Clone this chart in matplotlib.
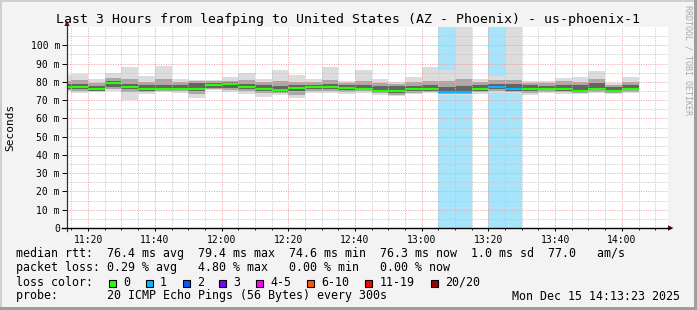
import matplotlib
matplotlib.use("Agg")
import matplotlib.pyplot as plt
import numpy as np
from matplotlib.patches import Rectangle, Polygon
from matplotlib.lines import Line2D

# ---------------- data ----------------
bin_starts = ["11:10", "11:15", "11:20", "11:25", "11:30", "11:35", "11:40", "11:45",
              "11:50", "11:55", "12:00", "12:05", "12:10", "12:15", "12:20", "12:25",
              "12:30", "12:35", "12:40", "12:45", "12:50", "12:55", "13:00", "13:05",
              "13:10", "13:15", "13:20", "13:25", "13:30", "13:35", "13:40", "13:45",
              "13:50", "13:55", "14:00"]
smoke_top = [83.5, 84.4, 81.8, 85.0, 88.1, 83.1, 88.6, 81.3, 80.9, 80.9, 82.4, 85.0,
             81.3, 86.2, 84.0, 81.8, 87.9, 80.6, 86.2, 81.8, 80.0, 82.9, 87.9, 86.2,
             115.0, 81.8, 83.1, 115.0, 80.7, 80.6, 82.2, 82.6, 85.7, 79.6, 82.4]
smoke_hi = [80.5, 81.2, 79.5, 82.3, 81.5, 80.0, 81.5, 80.0, 80.2, 80.3, 80.5, 81.0,
            80.0, 80.5, 80.0, 80.0, 81.0, 79.5, 80.5, 79.5, 79.0, 80.0, 80.5, 80.5,
            81.5, 80.0, 81.0, 81.0, 79.5, 79.5, 80.5, 80.0, 81.5, 78.5, 80.0]
core_hi = [78.8, 79.0, 77.5, 80.6, 79.0, 78.0, 78.5, 78.3, 79.5, 79.5, 79.8, 79.0,
           78.0, 77.5, 78.0, 78.5, 78.8, 78.0, 78.0, 77.5, 77.5, 77.5, 78.0, 77.0,
           77.5, 78.0, 79.0, 79.0, 78.0, 77.8, 78.5, 78.0, 79.5, 77.3, 78.0]
median_rtt = [77.4, 77.1, 75.8, 79.4, 76.9, 76.3, 76.3, 76.3, 76.3, 78.0, 78.7, 77.1,
              76.3, 75.4, 76.5, 77.1, 77.1, 76.5, 76.3, 75.2, 75.0, 75.8, 76.3, 74.6,
              74.6, 76.3, 76.9, 76.0, 76.3, 76.0, 76.3, 75.2, 76.0, 74.9, 76.3]
core_lo = [76.3, 76.0, 75.2, 77.0, 75.8, 75.2, 75.5, 75.5, 75.0, 76.8, 76.5, 75.8,
           75.0, 74.5, 74.8, 76.0, 76.0, 75.5, 75.5, 74.3, 74.0, 74.8, 75.0, 74.0,
           74.0, 75.0, 75.8, 75.2, 75.0, 75.3, 75.0, 74.5, 75.3, 74.3, 75.3]
smoke_lo = [75.6, 75.2, 74.9, 75.8, 74.5, 74.3, 75.0, 74.8, 73.5, 76.0, 75.5, 74.8,
            73.8, 73.8, 73.0, 75.0, 75.0, 74.5, 74.8, 73.8, 73.0, 74.0, 74.5, 73.5,
            73.5, 74.3, 75.0, 74.6, 74.0, 74.6, 74.2, 74.0, 74.6, 73.9, 74.6]
smoke_bottom = [74.9, 74.0, 74.5, 74.9, 70.3, 73.6, 74.5, 74.0, 71.4, 75.4, 74.5, 73.6,
                71.9, 72.7, 71.2, 74.0, 74.0, 73.6, 74.0, 73.0, 72.1, 73.4, 74.0, 73.0,
                73.0, 73.6, 74.0, 74.0, 73.0, 74.0, 73.4, 73.4, 74.0, 73.4, 74.0]
loss = [0, 0, 0, 0, 0, 0, 0, 0, 0, 0, 0, 0, 0, 0, 0, 0, 0, 0, 0, 0, 0, 0, 0, 1,
        1, 0, 1, 1, 0, 0, 0, 0, 0, 0, 0]

x_tick_labels = ["11:20", "11:40", "12:00", "12:20", "12:40", "13:00", "13:20", "13:40", "14:00"]
y_tick_values = [0, 10, 20, 30, 40, 50, 60, 70, 80, 90, 100]
y_tick_labels = ["0", "10 m", "20 m", "30 m", "40 m", "50 m", "60 m", "70 m", "80 m", "90 m", "100 m"]

loss_labels = ["0", "1", "2", "3", "4-5", "6-10", "11-19", "20/20"]
loss_colors = ["#26ff00", "#00b8ff", "#0059ff", "#7e00ff", "#ff00ff", "#ff5500", "#ff0000", "#a10000"]

title = "Last 3 Hours from leafping to United States (AZ - Phoenix) - us-phoenix-1"
legend_lines = [
    "median rtt:  76.4 ms avg  79.4 ms max  74.6 ms min  76.3 ms now  1.0 ms sd  77.0   am/s",
    "packet loss: 0.29 % avg   4.80 % max   0.00 % min   0.00 % now",
]
probe_text = "probe:       20 ICMP Echo Pings (56 Bytes) every 300s"
date_text = "Mon Dec 15 14:13:23 2025"
bin_minutes = 5
x_start, x_end = "11:13:40", "14:13:50"


def to_min(s):
    parts = [int(p) for p in s.split(":")]
    while len(parts) < 3:
        parts.append(0)
    return parts[0] * 60 + parts[1] + parts[2] / 60.0


# ---------------- figure ----------------
W, H = 697, 310
MONO = "DejaVu Sans Mono"
plt.rcParams["font.family"] = MONO

fig = plt.figure(figsize=(W / 100, H / 100), dpi=100, facecolor="#f3f3f3")


def fx(px):
    return px / W


def fy(py):
    return 1 - py / H


ax_l, ax_r, ax_b, ax_t = 67, 668, 228, 27
ax = fig.add_axes([fx(ax_l), fy(ax_b), fx(ax_r) - fx(ax_l), fy(ax_t) - fy(ax_b)])
ax.set_facecolor("white")

starts = np.array([to_min(s) for s in bin_starts])
top = np.array(smoke_top)
hi = np.array(smoke_hi)
chi = np.array(core_hi)
med = np.array(median_rtt)
clo = np.array(core_lo)
lo = np.array(smoke_lo)
bot = np.array(smoke_bottom)
ls = np.array(loss)

# loss background bands
lmask = ls > 0
ax.bar(starts[lmask], [200] * int(lmask.sum()), bottom=0, width=bin_minutes, align="edge",
       color="#a6e4fb", linewidth=0, zorder=0.8)

# smoke layers
ax.bar(starts, top - bot, bottom=bot, width=bin_minutes, align="edge", color="#dcdcdc", linewidth=0, zorder=1)
ax.bar(starts, hi - lo, bottom=lo, width=bin_minutes, align="edge", color="#a8a8a8", linewidth=0, zorder=1.1)
ax.bar(starts, chi - clo, bottom=clo, width=bin_minutes, align="edge", color="#646464", linewidth=0, zorder=1.2)

# median line coloured by loss
med_cols = [loss_colors[min(v, len(loss_colors) - 1)] for v in ls]
ax.hlines(med, starts, starts + bin_minutes, colors=med_cols, linewidth=1.5, zorder=3)

ax.set_xlim(to_min(x_start), to_min(x_end))
ax.set_ylim(0, 110)

# ticks & grid
xt = [to_min(s) for s in x_tick_labels]
ax.set_xticks(xt)
ax.set_xticklabels(x_tick_labels)
ax.set_xticks(np.arange(to_min("11:15"), to_min("14:15"), 5), minor=True)
ax.set_yticks(y_tick_values)
ax.set_yticklabels(y_tick_labels)
ax.set_yticks(np.arange(5, 110, 10), minor=True)

ax.tick_params(axis="both", which="major", labelsize=7, colors="black", length=3.6, width=0.7, pad=1.5)
ax.tick_params(axis="x", which="major", pad=3, length=2)
ax.tick_params(axis="y", which="minor", length=0)
ax.tick_params(axis="x", which="minor", length=1.5, width=0.6)

ax.set_axisbelow(False)
ax.grid(which="minor", color="#c4c4c4", linestyle=(0, (1, 1.4)), linewidth=0.72)
ax.grid(which="major", color="#f0a0a0", linestyle=(0, (1, 1.4)), linewidth=0.72)

for sp in ax.spines.values():
    sp.set_visible(False)

# axis lines with arrows
fig.add_artist(Line2D([fx(ax_l), fx(ax_l)], [fy(231), fy(24)], color="#303030", lw=0.9))
fig.add_artist(Line2D([fx(62), fx(670)], [fy(ax_b), fy(ax_b)], color="#000000", lw=1.0))
fig.add_artist(Polygon([(fx(668), fy(225.3)), (fx(673.5), fy(228)), (fx(668), fy(230.7))],
                       closed=True, color="#7f0000", lw=0))
fig.add_artist(Polygon([(fx(64.3), fy(26)), (fx(67), fy(20.5)), (fx(69.7), fy(26))],
                       closed=True, color="#7f0000", lw=0))

# title and labels
fig.text(0.5, fy(19), title, ha="center", va="center", fontsize=9.5, family=MONO)
fig.text(fx(10), fy(127), "Seconds", rotation=90, ha="center", va="center", fontsize=8, family=MONO)
fig.text(fx(688), fy(5), "RRDTOOL / TOBI OETIKER", rotation=270, ha="center", va="top",
         fontsize=6, color="#a8a8a8", family=MONO)

# legend
lx = 16
fig.text(fx(lx), fy(254), legend_lines[0], ha="left", va="center", fontsize=8.4, family=MONO)
fig.text(fx(lx), fy(268), legend_lines[1], ha="left", va="center", fontsize=8.4, family=MONO)
fig.text(fx(lx), fy(282), "loss color:", ha="left", va="center", fontsize=8.4, family=MONO)
box_x = [108.7, 145.7, 182.7, 219.3, 256.0, 307.3, 365.3, 430.7]
lab_x = [123.3, 160.0, 197.3, 233.3, 270.7, 321.7, 379.3, 444.7]
for bx, tx, lab, col in zip(box_x, lab_x, loss_labels, loss_colors):
    fig.add_artist(Rectangle((fx(bx), fy(286.5)), fx(7), 7 / H, facecolor=col,
                             edgecolor="black", linewidth=0.8))
    fig.text(fx(tx), fy(282), lab, ha="left", va="center", fontsize=8.4, family=MONO)
fig.text(fx(lx), fy(296), probe_text, ha="left", va="center", fontsize=8.4, family=MONO)
fig.text(fx(680), fy(296), date_text, ha="right", va="center", fontsize=8.4, family=MONO)

# 3D frame
fig.add_artist(Rectangle((0, fy(2)), 1, 2 / H, facecolor="#cfcfcf", lw=0))
fig.add_artist(Rectangle((0, 0), fx(2), 1, facecolor="#cfcfcf", lw=0))
fig.add_artist(Rectangle((0, 0), 1, 3 / H, facecolor="#9e9e9e", lw=0))
fig.add_artist(Rectangle((fx(W - 3), 0), fx(3), 1, facecolor="#9e9e9e", lw=0))

fig.savefig("out.png", dpi=100, facecolor=fig.get_facecolor())
